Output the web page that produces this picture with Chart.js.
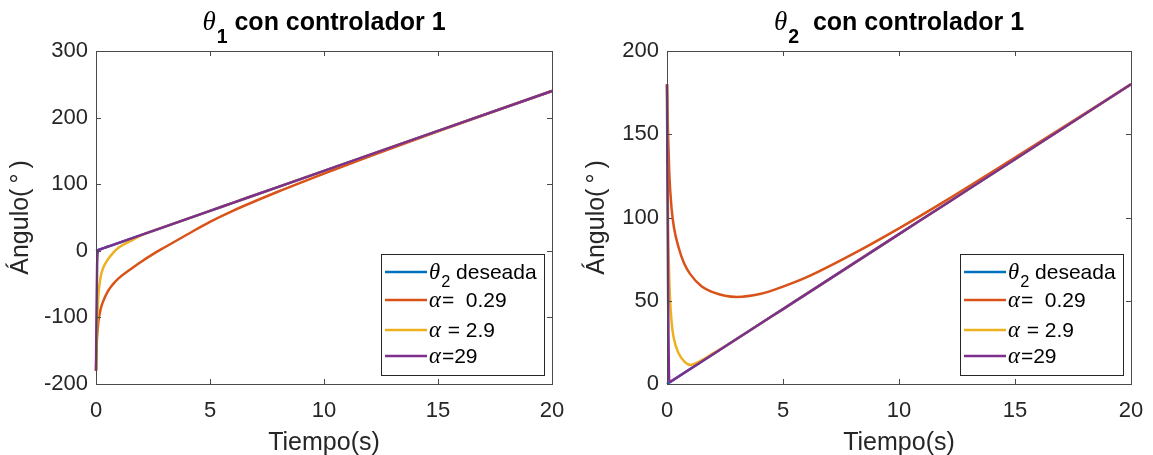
<!DOCTYPE html>
<html>
<head>
<meta charset="utf-8">
<script src="https://cdn.jsdelivr.net/npm/chart.js@4.4.0/dist/chart.umd.min.js"></script>
<style>
html, body { margin: 0; padding: 0; background: #fff; overflow: hidden; }
.panel { position: absolute; top: 0; height: 455px; }
</style>
</head>
<body>
<div class="panel" style="left:0;width:576px"><canvas id="c1" width="576" height="455"></canvas></div>
<div class="panel" style="left:576px;width:577px"><canvas id="c2" width="577" height="455"></canvas></div>
<script>
// time samples (s), denser near 0 where the responses move fast
var tiempo = [0, 0.02, 0.05, 0.1, 0.2, 0.3, 0.5, 0.75, 1, 1.5, 2, 2.5, 3, 4, 5, 6, 8, 10, 12, 15, 20];

var nombres = ['θ_2 deseada', 'α=  0.29', 'α = 2.9', 'α=29'];
var colores = ['#0072BD', '#D95319', '#EDB120', '#7E2F8E'];

// theta 1
var theta1Deseada = [0, 0.24, 0.6, 1.2, 2.4, 3.6, 6, 9, 12, 18, 24, 30, 36, 48, 60, 72, 96, 120, 144, 180, 240];
var theta1A029 = [-180, -150, -128, -108, -88, -77, -62, -50, -41, -28, -16, -5, 5, 24.5, 43.5, 60, 89, 116, 142, 179.5, 240];
var theta1A29 = [-180, -150, -110, -70, -40, -27, -14, -3, 5, 14.5, 23.5, 30, 36, 48, 60, 72, 96, 120, 144, 180, 240];
var theta1A290 = [-180, -100, -20, 0.8, 2.4, 3.6, 6, 9, 12, 18, 24, 30, 36, 48, 60, 72, 96, 120, 144, 180, 240];

// theta 2
var theta2Deseada = [0, 0.18, 0.45, 0.9, 1.8, 2.7, 4.5, 6.75, 9, 13.5, 18, 22.5, 27, 36, 45, 54, 72, 90, 108, 135, 180];
var theta2A029 = [180, 166, 148, 126, 105, 94, 82, 72, 66, 58.5, 55, 53, 52.3, 54, 58.5, 64, 78, 93.5, 110, 136, 180];
var theta2A29 = [180, 140, 95, 62, 37, 27, 18.5, 13.5, 11.5, 14.3, 18.5, 22.6, 27, 36, 45, 54, 72, 90, 108, 135, 180];
var theta2A290 = [180, 120, 50, 1, 1.8, 2.7, 4.5, 6.75, 9, 13.5, 18, 22.5, 27, 36, 45, 54, 72, 90, 108, 135, 180];

var xTicks = [0, 5, 10, 15, 20];

Chart.defaults.font.family = '"Liberation Sans", Arial, sans-serif';
Chart.defaults.color = '#262626';

// tiny TeX-ish text: greek letters italic serif, _x subscript
function richParts(ctx, str, size, weight) {
  var parts = [];
  for (var i = 0; i < str.length; i++) {
    var ch = str[i], sub = false;
    if (ch === '_') { sub = true; ch = str[++i]; }
    var fs = sub ? size * 0.78 : size;
    var greek = /[\u0370-\u03ff]/.test(ch);
    var font = greek ? 'italic ' + (fs * 1.08) + 'px "Liberation Serif", serif'
                     : weight + ' ' + fs + 'px "Liberation Sans", Arial, sans-serif';
    ctx.font = font;
    parts.push({ ch: ch, font: font, sub: sub, w: ctx.measureText(ch).width + (greek ? 1 : 0) });
  }
  return parts;
}

function drawRich(ctx, str, x, y, size, weight, align, subDy) {
  var parts = richParts(ctx, str, size, weight);
  var total = parts.reduce(function (s, p) { return s + p.w; }, 0);
  var cx = align === 'center' ? x - total / 2 : x;
  ctx.textAlign = 'left';
  ctx.textBaseline = 'alphabetic';
  parts.forEach(function (p) {
    ctx.font = p.font;
    ctx.fillText(p.ch, cx, y + (p.sub ? size * subDy : 0));
    cx += p.w;
  });
}

var marco = {
  id: 'marco',
  afterDraw: function (chart, args, o) {
    var ctx = chart.ctx, a = chart.chartArea;
    var sx = chart.scales.x, sy = chart.scales.y;
    ctx.save();
    // box + inward ticks
    ctx.strokeStyle = '#4a4a4a';
    ctx.lineWidth = 1;
    ctx.strokeRect(Math.round(a.left) + 0.5, Math.round(a.top) + 0.5,
      Math.round(a.right - a.left), Math.round(a.bottom - a.top));
    ctx.beginPath();
    sx.ticks.forEach(function (t) {
      var px = Math.round(sx.getPixelForValue(t.value)) + 0.5;
      ctx.moveTo(px, a.bottom); ctx.lineTo(px, a.bottom - 5);
      ctx.moveTo(px, a.top); ctx.lineTo(px, a.top + 5);
    });
    sy.ticks.forEach(function (t) {
      var py = Math.round(sy.getPixelForValue(t.value)) + 0.5;
      ctx.moveTo(a.left, py); ctx.lineTo(a.left + 5, py);
      ctx.moveTo(a.right, py); ctx.lineTo(a.right - 5, py);
    });
    ctx.stroke();

    // title and axis labels
    var cxm = (a.left + a.right) / 2, cym = (a.top + a.bottom) / 2;
    ctx.fillStyle = '#000';
    drawRich(ctx, o.titulo, cxm, 30, 25, 'bold', 'center', 0.5);
    ctx.fillStyle = '#262626';
    ctx.font = '25px "Liberation Sans", Arial, sans-serif';
    ctx.textAlign = 'center';
    ctx.textBaseline = 'alphabetic';
    ctx.fillText(o.xTitulo, cxm, 450);
    ctx.save();
    ctx.translate(o.yTituloX, cym);
    ctx.rotate(-Math.PI / 2);
    ctx.textBaseline = 'middle';
    ctx.fillText(o.yTitulo, 0, 0);
    ctx.restore();

    // legend box, lower right inside the axes
    var bw = 163, bh = 121;
    var bx = Math.round(a.right - 171), by = Math.round(a.bottom - 130);
    ctx.fillStyle = '#fff';
    ctx.fillRect(bx, by, bw, bh);
    ctx.strokeStyle = '#262626';
    ctx.lineWidth = 1;
    ctx.strokeRect(bx + 0.5, by + 0.5, bw, bh);
    var filas = [18, 46, 76, 102];
    chart.data.datasets.forEach(function (ds, i) {
      var y = by + filas[i];
      ctx.strokeStyle = ds.borderColor;
      ctx.lineWidth = 2.5;
      ctx.beginPath();
      ctx.moveTo(bx + 4, y); ctx.lineTo(bx + 46, y);
      ctx.stroke();
      ctx.fillStyle = '#000';
      drawRich(ctx, ds.label, bx + 48, y + 7, 21, 'normal', 'left', 0.38);
    });
    ctx.restore();
  }
};

function series(values, i) {
  return {
    label: nombres[i],
    data: tiempo.map(function (t, k) { return { x: t, y: values[k] }; }),
    borderColor: colores[i],
    backgroundColor: colores[i],
    borderWidth: 2.5,
    pointRadius: 0,
    cubicInterpolationMode: 'monotone',
    order: 3 - i,
    clip: 4
  };
}

function grafico(id, datos, yMin, yMax, yStep, yWidth, padRight, titulo) {
  return new Chart(document.getElementById(id), {
    type: 'line',
    data: { datasets: datos.map(series) },
    options: {
      responsive: false,
      animation: false,
      devicePixelRatio: 1,
      layout: { padding: { top: 51, right: padRight, left: 0, bottom: 0 } },
      plugins: {
        legend: { display: false },
        tooltip: { enabled: false },
        marco: { titulo: titulo, xTitulo: 'Tiempo(s)', yTitulo: 'Ángulo(\u2009°\u2009)', yTituloX: 21 }
      },
      scales: {
        x: {
          type: 'linear', min: 0, max: 20,
          afterBuildTicks: function (s) { s.ticks = xTicks.map(function (v) { return { value: v }; }); },
          ticks: { font: { size: 22 }, color: '#262626', padding: 14, maxRotation: 0 },
          grid: { display: false, drawTicks: false },
          border: { display: false },
          afterFit: function (s) { s.height = 71; s.paddingLeft = 0; s.paddingRight = 0; }
        },
        y: {
          type: 'linear', min: yMin, max: yMax,
          ticks: { stepSize: yStep, font: { size: 22 }, color: '#262626', padding: 8 },
          grid: { display: false, drawTicks: false },
          border: { display: false },
          afterFit: function (s) { s.width = yWidth; s.paddingTop = 0; s.paddingBottom = 0; }
        }
      }
    },
    plugins: [marco]
  });
}

grafico('c1', [theta1Deseada, theta1A029, theta1A29, theta1A290], -200, 300, 100, 96, 24, 'θ_1 con controlador 1');
grafico('c2', [theta2Deseada, theta2A029, theta2A29, theta2A290], 0, 200, 50, 91, 22, 'θ_2  con controlador 1');
</script>
</body>
</html>
